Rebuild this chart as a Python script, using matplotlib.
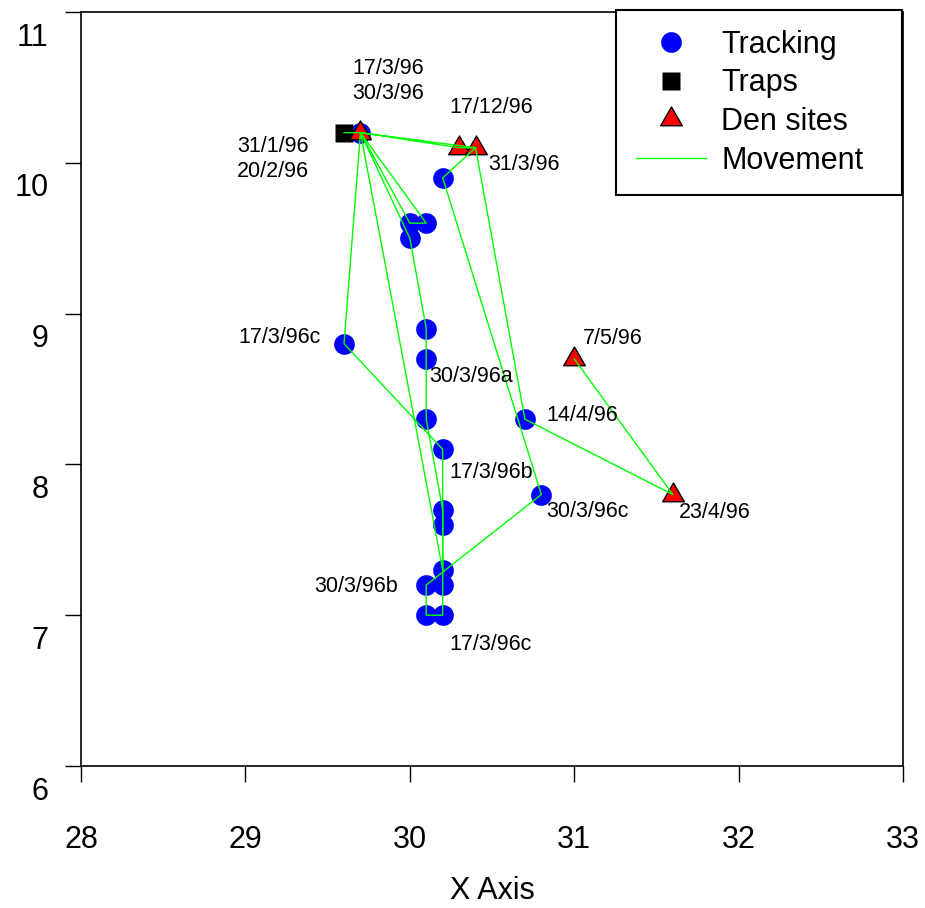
import matplotlib
matplotlib.use("Agg")
import matplotlib.pyplot as plt
from matplotlib.path import Path
from matplotlib.transforms import ScaledTranslation

plt.rcParams['font.family'] = ['Liberation Sans', 'DejaVu Sans']

# Tracking fixes
track_x = [29.7, 30.2, 30.0, 30.1, 30.0, 29.6, 30.1, 30.1, 30.1, 30.2,
           30.7, 30.8, 30.2, 30.2, 30.2, 30.1, 30.2, 30.1, 30.2]
track_y = [10.2, 9.9, 9.6, 9.6, 9.5, 8.8, 8.9, 8.7, 8.3, 8.1,
           8.3, 7.8, 7.7, 7.6, 7.3, 7.2, 7.2, 7.0, 7.0]

# Trap location
trap_x = [29.6]
trap_y = [10.2]

# Den sites
den_x = [29.7, 30.3, 30.4, 31.0, 31.6]
den_y = [10.2, 10.1, 10.1, 8.7, 7.8]

# Movement path between successive locations
move_x = [29.6, 29.7, 30.3, 30.4, 30.2, 30.8, 30.1, 30.1, 30.2, 30.2,
          30.2, 30.2, 30.2, 30.2, 29.6, 29.7, 30.1, 30.0, 29.7, 30.0,
          30.1, 30.1, 30.1, 30.2, 30.2, 29.7, 30.4, 30.7, 31.6, 31.0]
move_y = [10.2, 10.2, 10.1, 10.1, 9.9, 7.8, 7.2, 7.0, 7.0, 7.2,
          7.3, 7.6, 7.7, 8.1, 8.8, 10.2, 9.6, 9.6, 10.2, 9.5,
          8.9, 8.7, 8.3, 7.7, 7.3, 10.2, 10.1, 8.3, 7.8, 8.7]

# Date labels and the location each one belongs to
date_text = ['17/3/96', '30/3/96', '31/1/96', '20/2/96', '17/12/96',
             '31/3/96', '17/3/96c', '30/3/96a', '14/4/96', '17/3/96b',
             '30/3/96c', '7/5/96', '23/4/96', '30/3/96b', '17/3/96c']
date_x = [29.7, 29.7, 29.6, 29.6, 30.3, 30.4, 29.6, 30.1, 30.7, 30.2,
          30.8, 31.0, 31.6, 30.1, 30.2]
date_y = [10.2, 10.2, 10.2, 10.2, 10.1, 10.1, 8.8, 8.7, 8.3, 8.1,
          7.8, 8.7, 7.8, 7.2, 7.0]

x_ticks = [28, 29, 30, 31, 32, 33]
y_ticks = [6, 7, 8, 9, 10, 11]

# label placement relative to its location (pixels: right, up)
date_offsets = [(-8.5, 58.6), (-8.5, 33.6), (-107, -19.4), (-107, -44.4),
                (-10, 34.7), (12.4, -22.3), (-106, 0.8), (2.8, -23.2),
                (21, -1.8), (6.3, -28.7), (4.7, -22.4), (8.8, 14.8),
                (6.2, -23.4), (-112, -7), (6.3, -34.8)]

W, H = 925, 908
fig = plt.figure(figsize=(W / 100, H / 100), dpi=100)
ax = fig.add_axes([81 / W, 142 / H, 822 / W, 754 / H])

tri_verts = [(-1, -0.577), (1, -0.577), (0, 1.155), (-1, -0.577)]
tri_marker = Path(tri_verts, closed=True)

ax.plot(track_x, track_y, linestyle='none', marker='o', color='#0000ff',
        ms=14.9, mec='none', label='Tracking', zorder=2)
ax.plot(trap_x, trap_y, linestyle='none', marker='s', color='black',
        ms=13.2, mec='none', label='Traps', zorder=3)
ax.plot(den_x, den_y, linestyle='none', marker=tri_marker, ms=18,
        mfc='#ff0000', mec='black', mew=1.0, label='Den sites', zorder=4)
ax.plot(move_x, move_y, color='#00ff00', lw=1.0, label='Movement', zorder=5)

for t, x, y, (dx, dy) in zip(date_text, date_x, date_y, date_offsets):
    ax.annotate(t, xy=(x, y), xytext=(dx, dy), textcoords='offset pixels',
                fontsize=15.5, ha='left', va='baseline', zorder=6)

ax.set_xlim(28, 33)
ax.set_ylim(6, 11)
ax.set_xticks(x_ticks)
ax.set_yticks(y_ticks)
ax.set_xticklabels([str(v) for v in x_ticks])
ax.set_yticklabels([str(v) for v in y_ticks])

for s in ax.spines.values():
    s.set_linewidth(1.2)
ax.tick_params(axis='both', direction='out', length=11.5, width=1.0,
               labelsize=22, colors='black')
ax.tick_params(axis='x', pad=31)
ax.tick_params(axis='y', pad=12)

shift = ScaledTranslation(0, -0.22, fig.dpi_scale_trans)
for lab in ax.get_yticklabels():
    lab.set_transform(lab.get_transform() + shift)

ax.set_xlabel('X Axis', fontsize=22)
ax.xaxis.set_label_coords(0.5, -110 / 754)

leg = ax.legend(loc='upper left',
                bbox_to_anchor=(616 / W, (H - 193) / H, 286 / W, 183 / H),
                bbox_transform=fig.transFigure, mode='expand',
                borderaxespad=0, fontsize=22, frameon=True, fancybox=False,
                edgecolor='black', framealpha=1, numpoints=1,
                handlelength=2.3, handletextpad=0.5, borderpad=0.64,
                labelspacing=0.285)
leg.get_frame().set_linewidth(1.5)

fig.savefig('out.png', dpi=100, facecolor='white')
